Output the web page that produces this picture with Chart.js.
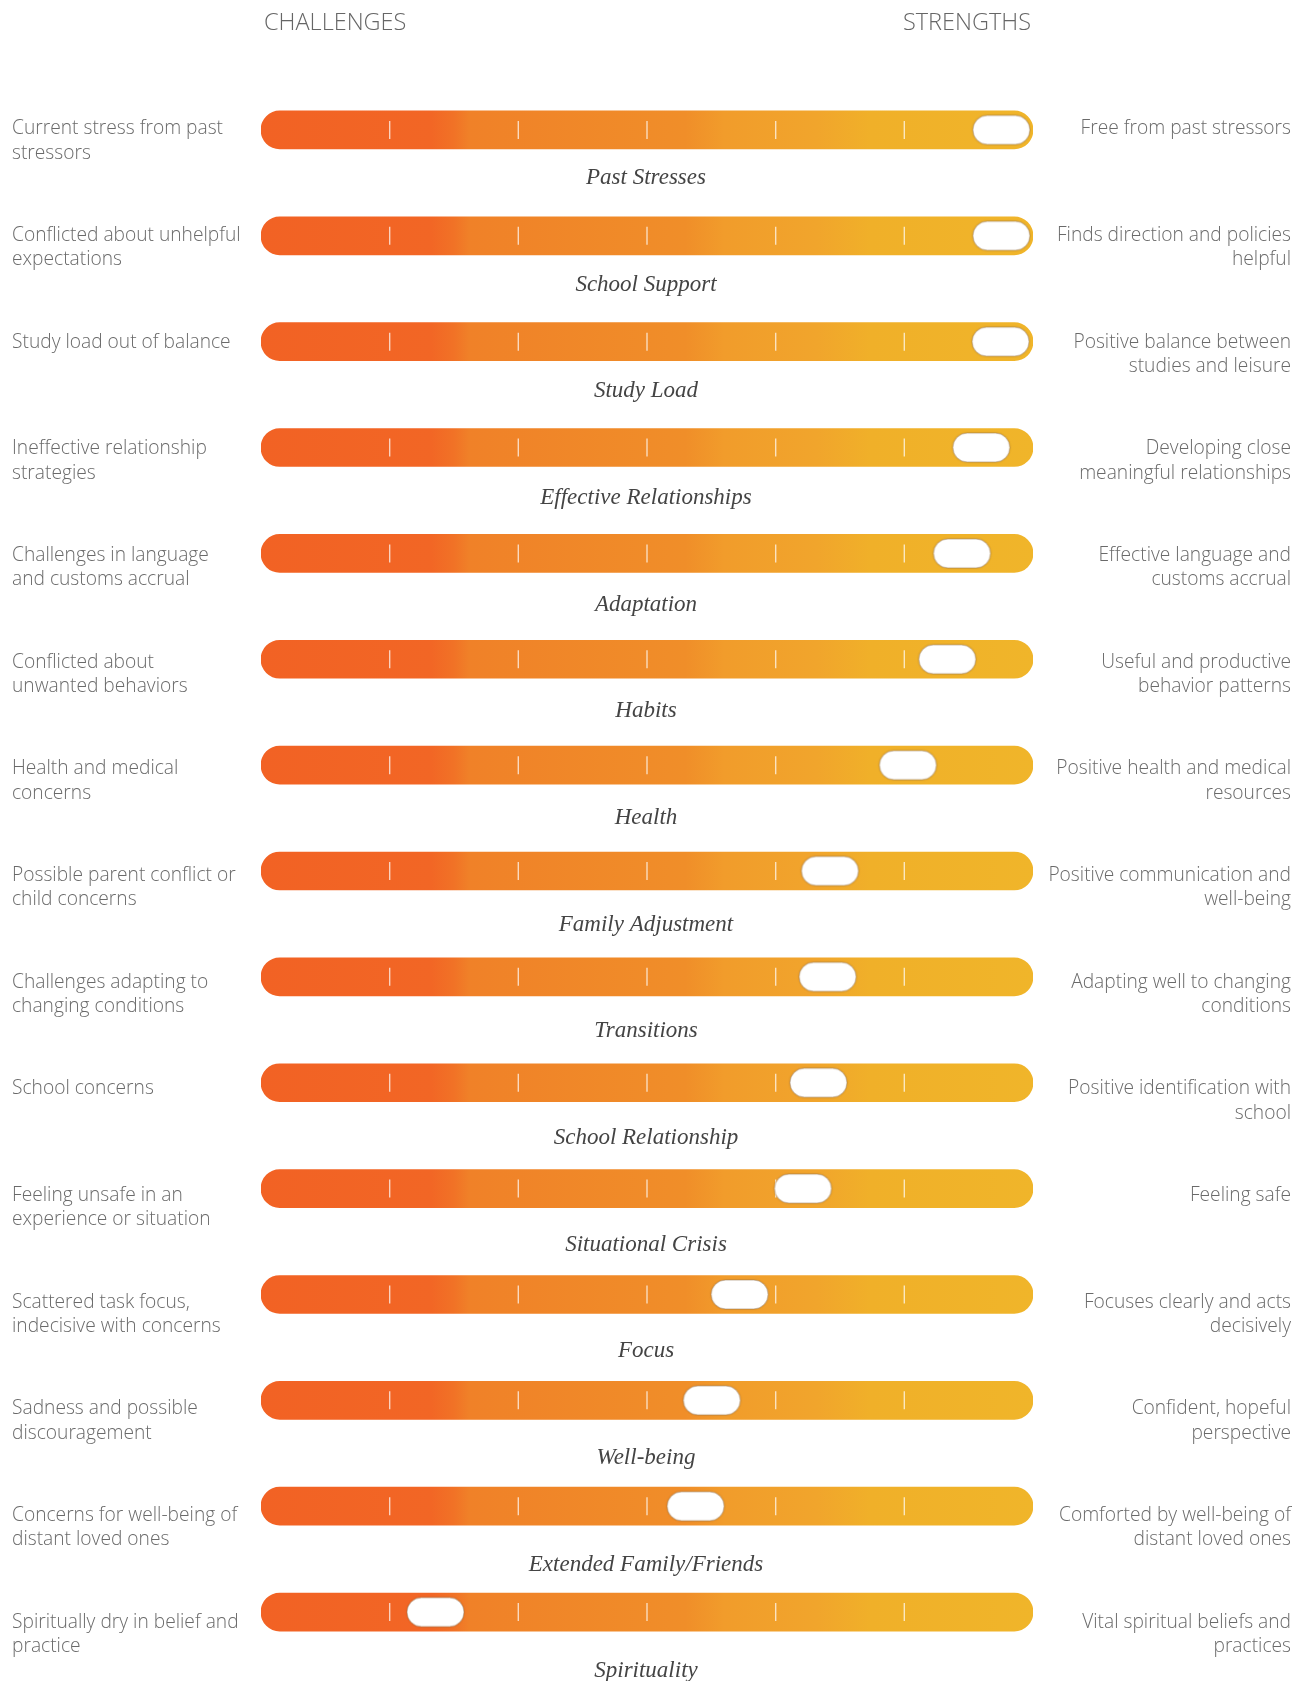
<!DOCTYPE html>
<html>
<head>
<meta charset="utf-8">
<script src="https://cdn.jsdelivr.net/npm/chart.js@4.4.1/dist/chart.umd.min.js"></script>
<style>
  html, body { margin: 0; padding: 0; background: #ffffff; }
  #wrap { position: relative; width: 1304px; height: 1681px; }
  canvas { display: block; }
</style>
</head>
<body>
<div id="wrap"><canvas id="c" width="1304" height="1681"></canvas></div>
<script>
// ---------- DATA ----------
const categories = [
  "Past Stresses", "School Support", "Study Load", "Effective Relationships",
  "Adaptation", "Habits", "Health", "Family Adjustment", "Transitions",
  "School Relationship", "Situational Crisis", "Focus", "Well-being",
  "Extended Family/Friends", "Spirituality"
];
const scores = [95.9, 95.9, 95.8, 93.3, 90.8, 88.9, 83.8, 73.7, 73.4, 72.2, 70.2, 62.0, 58.4, 56.3, 22.6];
const trackRange = [0, 100];
const tickValues = [16.67, 33.33, 50, 66.67, 83.33];
const challengeLabels = [
  ["Current stress from past", "stressors"],
  ["Conflicted about unhelpful", "expectations"],
  ["Study load out of balance"],
  ["Ineffective relationship", "strategies"],
  ["Challenges in language", "and customs accrual"],
  ["Conflicted about", "unwanted behaviors"],
  ["Health and medical", "concerns"],
  ["Possible parent conflict or", "child concerns"],
  ["Challenges adapting to", "changing conditions"],
  ["School concerns"],
  ["Feeling unsafe in an", "experience or situation"],
  ["Scattered task focus,", "indecisive with concerns"],
  ["Sadness and possible", "discouragement"],
  ["Concerns for well-being of", "distant loved ones"],
  ["Spiritually dry in belief and", "practice"]
];
const strengthLabels = [
  ["Free from past stressors"],
  ["Finds direction and policies", "helpful"],
  ["Positive balance between", "studies and leisure"],
  ["Developing close", "meaningful relationships"],
  ["Effective language and", "customs accrual"],
  ["Useful and productive", "behavior patterns"],
  ["Positive health and medical", "resources"],
  ["Positive communication and", "well-being"],
  ["Adapting well to changing", "conditions"],
  ["Positive identification with", "school"],
  ["Feeling safe"],
  ["Focuses clearly and acts", "decisively"],
  ["Confident, hopeful", "perspective"],
  ["Comforted by well-being of", "distant loved ones"],
  ["Vital spiritual beliefs and", "practices"]
];
const headerLeft = "CHALLENGES";
const headerRight = "STRENGTHS";

// ---------- STYLE HELPERS ----------
function makeKnob() {
  const w = 57, h = 29, pad = 3;
  const cv = document.createElement('canvas');
  cv.width = w + pad * 2; cv.height = h + pad * 2;
  const c = cv.getContext('2d');
  const r = h / 2;
  c.beginPath();
  c.moveTo(pad + r, pad);
  c.lineTo(pad + w - r, pad);
  c.arc(pad + w - r, pad + r, r, -Math.PI / 2, Math.PI / 2);
  c.lineTo(pad + r, pad + h);
  c.arc(pad + r, pad + r, r, Math.PI / 2, Math.PI * 1.5);
  c.closePath();
  c.shadowColor = 'rgba(120,70,20,0.35)';
  c.shadowBlur = 2;
  c.fillStyle = '#ffffff';
  c.fill();
  c.shadowColor = 'transparent';
  c.lineWidth = 1;
  c.strokeStyle = 'rgba(150,120,90,0.55)';
  c.stroke();
  return cv;
}
const knobImg = makeKnob();

function trackFill(context) {
  const chart = context.chart;
  const ca = chart.chartArea;
  if (!ca) return '#F08A2A';
  const g = chart.ctx.createLinearGradient(ca.left, 0, ca.right, 0);
  g.addColorStop(0.00, '#F26224');
  g.addColorStop(0.22, '#F26625');
  g.addColorStop(0.25, '#F17226');
  g.addColorStop(0.27, '#F08128');
  g.addColorStop(0.55, '#F08E29');
  g.addColorStop(0.60, '#F19C2B');
  g.addColorStop(0.72, '#F1A52C');
  g.addColorStop(0.79, '#F0B029');
  g.addColorStop(1.00, '#F0B52A');
  return g;
}

const textPlugin = {
  id: 'sideTexts',
  afterDraw(chart) {
    const ctx = chart.ctx;
    const y = chart.scales.y;
    ctx.save();
    ctx.fillStyle = '#666666';
    ctx.font = '300 23.5px "Open Sans"';
    ctx.textBaseline = 'middle';
    ctx.textAlign = 'left';
    ctx.fillText(headerLeft, 264, 23);
    ctx.textAlign = 'right';
    ctx.fillText(headerRight, 1031, 23);

    ctx.font = '300 19.2px "Open Sans"';
    categories.forEach((cat, i) => {
      const ty = y.getPixelForValue(i) - 1 + i * 0.8;
      ctx.fillStyle = '#6a6a6a';
      ctx.textAlign = 'left';
      challengeLabels[i].forEach((ln, k) => ctx.fillText(ln, 12, ty + k * 24.2));
      ctx.textAlign = 'right';
      strengthLabels[i].forEach((ln, k) => ctx.fillText(ln, 1291, ty + k * 24.2));
    });
    ctx.font = 'italic 23px "Liberation Serif"';
    ctx.fillStyle = '#444444';
    ctx.textAlign = 'center';
    categories.forEach((cat, i) => {
      const yc = y.getPixelForValue(i);
      ctx.fillText(cat, 646, yc + 48 + i * 0.8);
    });
    ctx.restore();
  }
};

// ---------- CHART ----------
const tickPoints = [];
categories.forEach(cat => tickValues.forEach(v => tickPoints.push({ x: v, y: cat })));

new Chart(document.getElementById('c'), {
  type: 'bar',
  data: {
    labels: categories,
    datasets: [
      {
        type: 'line',
        label: 'score',
        data: scores.map((v, i) => ({ x: v, y: categories[i] })),
        showLine: false,
        pointStyle: knobImg,
        pointRadius: 15,
        pointHoverRadius: 15,
        order: 1
      },
      {
        type: 'line',
        label: 'ticks',
        data: tickPoints,
        showLine: false,
        pointStyle: 'line',
        rotation: 90,
        pointRadius: 9,
        pointHoverRadius: 9,
        pointBorderWidth: 1.4,
        pointBorderColor: 'rgba(255,255,255,0.7)',
        order: 2
      },
      {
        label: 'track',
        data: categories.map(() => trackRange.slice()),
        backgroundColor: trackFill,
        borderWidth: 0,
        borderRadius: 19,
        borderSkipped: false,
        barThickness: 38,
        order: 3
      }
    ]
  },
  options: {
    indexAxis: 'y',
    responsive: false,
    devicePixelRatio: 1,
    animation: false,
    layout: { padding: { left: 261, right: 271, top: 77, bottom: 16 } },
    plugins: { legend: { display: false }, tooltip: { enabled: false } },
    scales: {
      x: { type: 'linear', min: 0, max: 100, display: false },
      y: { type: 'category', display: false, offset: true }
    }
  },
  plugins: [textPlugin]
});
</script>
</body>
</html>
